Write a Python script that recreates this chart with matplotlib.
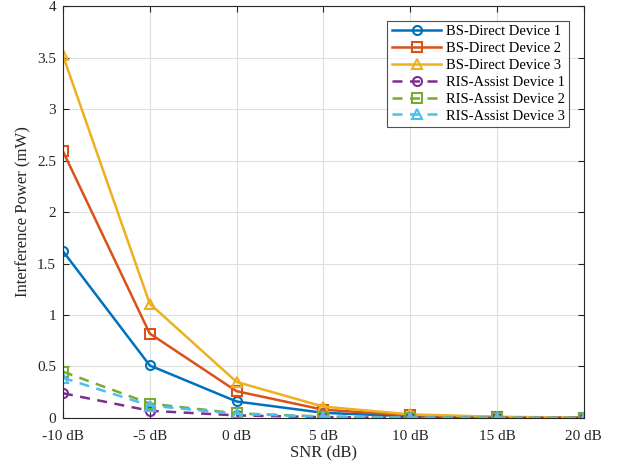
import matplotlib
matplotlib.use("Agg")
import matplotlib.pyplot as plt
import numpy as np

plt.rcParams['font.family'] = ['Liberation Serif', 'DejaVu Serif']
plt.rcParams['mathtext.fontset'] = 'stix'

snr = [-10, -5, 0, 5, 10, 15, 20]
snr_labels = ['-10 dB', '-5 dB', '0 dB', '5 dB', '10 dB', '15 dB', '20 dB']

bs_dev1 = [1.62, 0.51, 0.16, 0.05, 0.016, 0.005, 0.002]
bs_dev2 = [2.59, 0.82, 0.26, 0.08, 0.026, 0.008, 0.003]
bs_dev3 = [3.52, 1.11, 0.35, 0.11, 0.035, 0.011, 0.004]
ris_dev1 = [0.24, 0.07, 0.025, 0.008, 0.002, 0.001, 0.0003]
ris_dev2 = [0.45, 0.14, 0.045, 0.014, 0.0045, 0.0014, 0.0005]
ris_dev3 = [0.39, 0.12, 0.04, 0.012, 0.004, 0.0012, 0.0004]

c1, c2, c3 = '#0072BD', '#D95319', '#EDB120'
c4, c5, c6 = '#7E2F8E', '#77AC30', '#4DBEEE'

fig = plt.figure(figsize=(6.23, 4.67), dpi=100)
ax = fig.add_axes([0.101, 0.105, 0.836, 0.882])

mk = dict(markersize=6.5, markerfacecolor='none', markeredgewidth=1.5, linewidth=1.8)
ax.plot(snr, bs_dev1, '-o', color=c1, label='BS-Direct Device 1', **mk)
ax.plot(snr, bs_dev2, '-s', color=c2, label='BS-Direct Device 2', **mk)
ax.plot(snr, bs_dev3, '-^', color=c3, label='BS-Direct Device 3', **mk)
ax.plot(snr, ris_dev1, '--o', color=c4, label='RIS-Assist Device 1', dashes=(4, 3), **mk)
ax.plot(snr, ris_dev2, '--s', color=c5, label='RIS-Assist Device 2', dashes=(4, 3), **mk)
ax.plot(snr, ris_dev3, '--^', color=c6, label='RIS-Assist Device 3', dashes=(4, 3), **mk)

ax.set_xlim(-10, 20)
ax.set_ylim(0, 4)
ax.set_xticks(snr)
ax.set_xticklabels(snr_labels)
ax.set_yticks(np.arange(0, 4.01, 0.5))
ax.set_yticklabels(['0', '0.5', '1', '1.5', '2', '2.5', '3', '3.5', '4'])
ax.tick_params(direction='in', labelsize=11, colors='#262626', length=4,
               top=True, right=True)
ax.tick_params(axis='x', pad=9)
ax.tick_params(axis='y', pad=5)
for s in ax.spines.values():
    s.set_color('#262626')
    s.set_linewidth(0.8)
ax.grid(True, color='#dfdfdf', linewidth=0.8)
ax.set_axisbelow(True)

ax.set_xlabel('SNR (dB)', fontsize=12, color='#262626', labelpad=1)
ax.set_ylabel('Interference Power (mW)', fontsize=12, color='#262626', labelpad=4)

leg = ax.legend(loc='upper right', fontsize=10.5, frameon=True, fancybox=False,
                edgecolor='#262626', handlelength=3.4, borderpad=0.3,
                labelspacing=0.25, handletextpad=0.3, borderaxespad=1.0)
leg.get_frame().set_linewidth(0.8)

fig.savefig('out.png', dpi=100)
